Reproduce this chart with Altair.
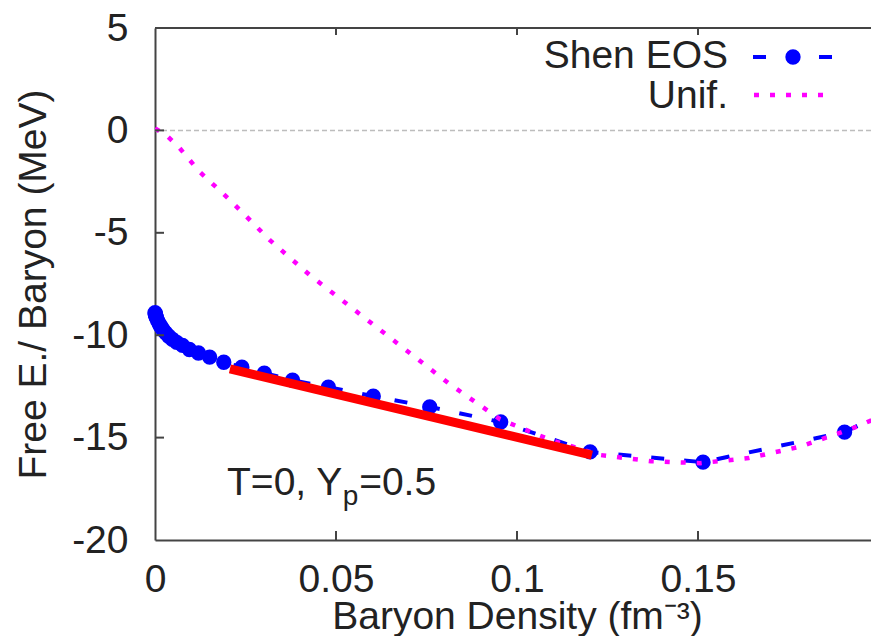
import altair as alt
import pandas as pd

# ---- data ----
shen_n = [0.00002, 0.00006, 0.00012, 0.00019, 0.00030, 0.00048, 0.00076, 0.0012,
          0.0015, 0.0019, 0.0024, 0.0030, 0.0038, 0.0048, 0.0060, 0.0076, 0.0095,
          0.0120, 0.0151, 0.0190, 0.0240, 0.0302, 0.0380, 0.0479, 0.0603, 0.0759,
          0.0955, 0.1202, 0.1514, 0.1905, 0.2398]
shen_e = [-8.90, -8.95, -9.00, -9.03, -9.10, -9.18, -9.30, -9.45,
          -9.55, -9.65, -9.78, -9.90, -10.05, -10.20, -10.35, -10.50, -10.70,
          -10.87, -11.07, -11.32, -11.56, -11.85, -12.20, -12.54, -12.98, -13.50,
          -14.24, -15.70, -16.20, -14.73, -10.5]

unif_n = [0.0, 0.0032, 0.0064, 0.0094, 0.0122, 0.0207, 0.0318, 0.0428, 0.0539,
          0.0677, 0.0815, 0.0953, 0.109, 0.123, 0.137, 0.1506, 0.164, 0.178,
          0.192, 0.2]
unif_e = [0.10, -0.25, -0.78, -1.41, -2.00, -3.40, -5.37, -7.07, -8.60,
          -10.50, -12.40, -14.10, -15.10, -15.85, -16.15, -16.25, -16.00, -15.45,
          -14.60, -14.0]

red_n = [0.0207, 0.1207]
red_e = [-11.65, -15.85]

x_ticks = [0.05, 0.1, 0.15]
x_labels_at = [0, 0.05, 0.1, 0.15]
y_ticks = [-15, -10, -5, 0]
y_labels_at = [-20, -15, -10, -5, 0, 5]

legend_labels = ["Shen EOS", "Unif."]

# ---- layout ----
W, H = 716, 512
XMAX = 0.1978
FONT = "Liberation Sans"
FS = 39
TXT = "#222222"
BLUE = "#0000ff"
MAG = "#ff00ff"
RED = "#ff0000"
AX = "#444444"

xs = alt.Scale(domain=[0, XMAX], nice=False, zero=False)
ys = alt.Scale(domain=[-20, 5], nice=False, zero=False)

xaxis = alt.Axis(values=x_labels_at, labelExpr="toString(datum.value)", ticks=False, tickSize=0,
                 grid=False, domain=True, domainColor=AX, domainWidth=2,
                 labelFont=FONT, labelFontSize=FS, labelColor=TXT,
                 labelBaseline="alphabetic", labelPadding=51, labelFlush=False,
                 labelOverlap=False,
                 title="Baryon Density (fm⁻³)", titleFont=FONT, titleFontSize=FS,
                 titleFontWeight="normal", titleColor=TXT, titleX=362, titleY=88,
                 titleBaseline="alphabetic", titleAlign="center")
yaxis = alt.Axis(values=y_labels_at, labelExpr="toString(datum.value)", ticks=False, tickSize=0,
                 grid=False, domain=True, domainColor=AX, domainWidth=2,
                 labelFont=FONT, labelFontSize=FS, labelColor=TXT,
                 labelPadding=27, labelFlush=False, labelOverlap=False,
                 title="Free E./ Baryon (MeV)", titleFont=FONT, titleFontSize=FS,
                 titleFontWeight="normal", titleColor=TXT, titleX=-110, titleY=H / 2,
                 titleBaseline="alphabetic", titleAlign="center", titleAngle=270)

X = alt.X("x:Q", scale=xs, axis=xaxis, title="Baryon Density (fm⁻³)")
Y = alt.Y("y:Q", scale=ys, axis=yaxis, title="Free E./ Baryon (MeV)")

shen = pd.DataFrame({"x": shen_n, "y": shen_e})
shen = shen[shen.x <= XMAX]
unif = pd.DataFrame({"x": unif_n, "y": unif_e})
red = pd.DataFrame({"x": red_n, "y": red_e})

zero = alt.Chart(pd.DataFrame({"y": [0]})).mark_rule(
    color="#bdbdbd", strokeDash=[5, 3], strokeWidth=1.5).encode(y=Y)

shen_line = alt.Chart(pd.DataFrame({"x": shen_n, "y": shen_e})).mark_line(
    color=BLUE, strokeDash=[13, 20], strokeWidth=4, clip=True).encode(x=X, y=Y)
shen_pts = alt.Chart(shen).mark_circle(color=BLUE, opacity=1, size=235).encode(x=X, y=Y)
unif_line = alt.Chart(unif).mark_line(
    color=MAG, strokeDash=[5, 11], strokeWidth=4.5, clip=True).encode(x=X, y=Y)
red_line = alt.Chart(red).mark_line(color=RED, strokeWidth=9, strokeCap="butt").encode(x=X, y=Y)

# inward ticks (gnuplot style) and top border
ytick = alt.Chart(pd.DataFrame({"y": y_ticks})).mark_rule(color=AX, strokeWidth=2).encode(
    y=Y, x=alt.value(0), x2=alt.value(9))
xtick_b = alt.Chart(pd.DataFrame({"x": x_ticks})).mark_rule(color=AX, strokeWidth=2).encode(
    x=X, y=alt.value(H), y2=alt.value(H - 9))
xtick_t = alt.Chart(pd.DataFrame({"x": x_ticks})).mark_rule(color=AX, strokeWidth=2).encode(
    x=X, y=alt.value(0), y2=alt.value(7))
top_border = alt.Chart(pd.DataFrame({"a": [0]})).mark_rule(color=AX, strokeWidth=2).encode(
    x=alt.value(0), x2=alt.value(W), y=alt.value(0))

# key (label on the left, sample on the right, as in gnuplot)
key_txt = alt.Chart(pd.DataFrame({"t": legend_labels, "py": [40, 80]})).mark_text(
    align="right", baseline="alphabetic", font=FONT, fontSize=FS, color=TXT).encode(
    x=alt.value(573), y=alt.Y("py:Q", scale=None), text="t:N")
key_blue = alt.Chart(pd.DataFrame({"a": [0]})).mark_rule(
    color=BLUE, strokeDash=[13, 20], strokeWidth=4).encode(
    x=alt.value(598), x2=alt.value(679), y=alt.value(29))
key_dot = alt.Chart(pd.DataFrame({"a": [0]})).mark_circle(color=BLUE, opacity=1, size=235).encode(
    x=alt.value(638), y=alt.value(29))
key_mag = alt.Chart(pd.DataFrame({"a": [0]})).mark_rule(
    color=MAG, strokeDash=[5, 11], strokeWidth=4.5).encode(
    x=alt.value(599), x2=alt.value(669), y=alt.value(67))

# annotation  T=0, Y_p=0.5
ann_main = alt.Chart(pd.DataFrame({"x": [0.0199], "y": [-17.8], "t": ["T=0, Y"]})).mark_text(
    align="left", baseline="alphabetic", font=FONT, fontSize=FS, color=TXT).encode(x=X, y=Y, text="t:N")
ann_sub = alt.Chart(pd.DataFrame({"x": [0.0519], "y": [-18.3], "t": ["p"]})).mark_text(
    align="left", baseline="alphabetic", font=FONT, fontSize=28, color=TXT).encode(x=X, y=Y, text="t:N")
ann_end = alt.Chart(pd.DataFrame({"x": [0.0564], "y": [-17.8], "t": ["=0.5"]})).mark_text(
    align="left", baseline="alphabetic", font=FONT, fontSize=FS, color=TXT).encode(x=X, y=Y, text="t:N")

chart = alt.layer(
    zero, shen_line, shen_pts, unif_line, red_line,
    ytick, xtick_b, xtick_t, top_border,
    key_txt, key_blue, key_dot, key_mag,
    ann_main, ann_sub, ann_end,
).properties(
    width=W, height=H,
    autosize=alt.AutoSizeParams(type="none"),
    padding={"left": 155, "top": 28, "right": 0, "bottom": 96},
    background="white",
).configure_view(stroke=None)

chart.save("out.html", embed_options={"renderer": "svg", "actions": False})
